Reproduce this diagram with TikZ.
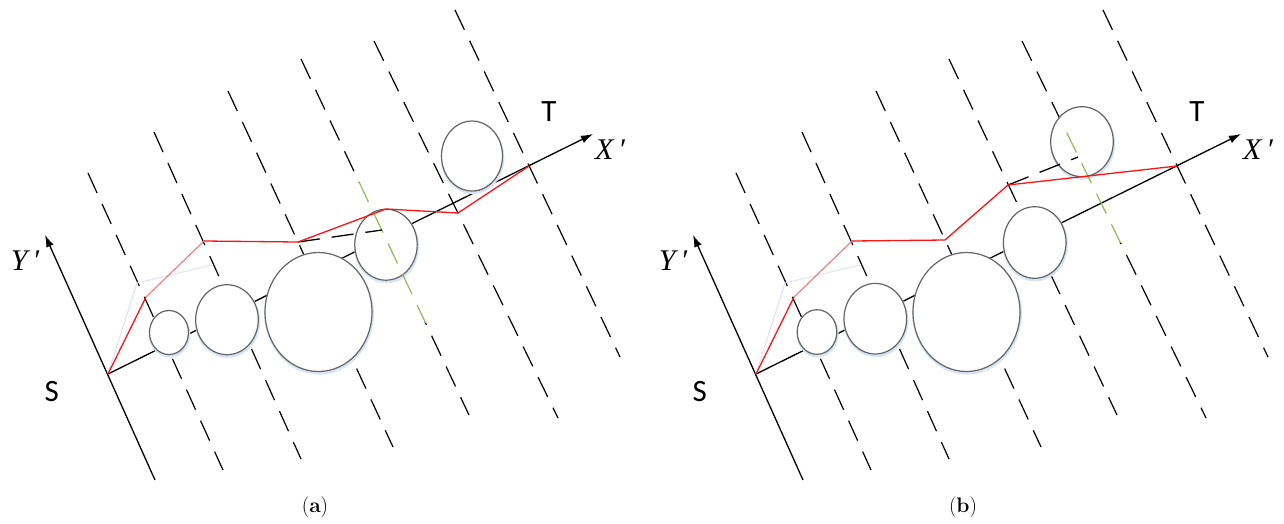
\documentclass[tikz,border=0pt]{standalone}
\usepackage{fontspec}
\newfontfamily\lblfont{Carlito}
\newfontfamily\axfont{Liberation Serif}
\usetikzlibrary{arrows.meta,shapes.geometric}
\definecolor{redpath}{RGB}{250,20,20}
\definecolor{redlight}{RGB}{244,120,120}
\definecolor{faintc}{RGB}{226,226,240}
\definecolor{olivec}{RGB}{150,185,85}
\definecolor{circc}{RGB}{100,100,100}
\definecolor{glowc}{RGB}{214,228,244}
\tikzset{
  guide/.style={line width=1.2pt, dash pattern=on 22pt off 12pt},
  greenguide/.style={guide, draw=olivec},
  axisline/.style={line width=1.3pt, -{Latex[length=12pt,width=8pt]}},
  obstsh/.style={ellipse, draw=circc, fill=white, line width=1.2pt, inner sep=0pt},
  glowsh/.style={ellipse, draw=glowc, line width=2.6pt, inner sep=0pt},
  redline/.style={draw=redpath, line width=1.3pt, line join=round},
  redsoft/.style={draw=redlight, line width=1.1pt},
  faintline/.style={draw=faintc, line width=1pt},
  hiddenseg/.style={line width=1.3pt, dash pattern=on 22pt off 12pt},
  lbl/.style={font=\lblfont\fontsize{31}{31}\selectfont, inner sep=0pt},
  axlbl/.style={font=\axfont\itshape\fontsize{30}{30}\selectfont, inner sep=0pt},
  capt/.style={font=\fontsize{21}{21}\selectfont, inner sep=0pt}
}
\newcommand\obst[5]{%
  \node[glowsh, minimum width=#4pt, minimum height=#5pt] (#1g) at (#2+0.6,#3+1.8) {};
  \node[obstsh, minimum width=#4pt, minimum height=#5pt] (#1) at (#2,#3) {};
}
\begin{document}
\begin{tikzpicture}[x=1pt,y=-1pt]
\useasboundingbox (0,0) rectangle (1284,523);

% ================= panel (a) =================
\coordinate (aS) at (108,374);
\coordinate (aYb) at (155,480);
\coordinate (aYt) at (45,235);
\coordinate (aXt) at (593,134);
\coordinate (aT) at (529,166);
\coordinate (a1t) at (88,173);  \coordinate (a1b) at (223,470);
\coordinate (a2t) at (154,132); \coordinate (a2b) at (301,459);
\coordinate (a3t) at (228,91);  \coordinate (a3b) at (393,447);
\coordinate (a4t) at (301,59);  \coordinate (a4b) at (469,415);
\coordinate (a5t) at (374,41);  \coordinate (a5b) at (558,418);
\coordinate (a6t) at (455,10);  \coordinate (a6b) at (620,357);
\coordinate (av1) at (146,297);
\coordinate (av2) at (204,241);
\coordinate (av3) at (298,242);
\coordinate (av4) at (386,209);
\coordinate (av5) at (458,213);
\coordinate (af1) at (137,283);
\coordinate (af2) at (212,265);
\coordinate (ah) at (382,230);

\draw[guide] (a1t) -- (a1b);
\draw[guide] (a2t) -- (a2b);
\draw[guide] (a3t) -- (a3b);
\begin{scope}
  \clip (0,0) rectangle (640,182);
  \draw[guide] (a4t) -- (a4b);
\end{scope}
\begin{scope}
  \clip (0,322) rectangle (640,523);
  \draw[guide] (a4t) -- (a4b);
\end{scope}
\draw[guide] (a5t) -- (a5b);
\draw[guide] (a6t) -- (a6b);

\draw[axisline] (aYb) -- (aYt);
\draw[axisline] (aS) -- (aXt);

\obst{ac1}{169}{332.5}{39}{44}
\obst{ac2}{227}{319.7}{62.6}{70}
\obst{ac3}{318.5}{312}{107}{119}
\obst{ac4}{386}{244.7}{62.4}{71}
\obst{ac5}{472}{156}{61}{70}

\begin{scope}
  \clip (0,182) rectangle (640,322);
  \draw[greenguide] (a4t) -- (a4b);
\end{scope}
\draw[hiddenseg] (av3) -- (ah);

\draw[faintline] (aS) -- (af1) -- (af2);
\draw[redline] (aS) -- (av1);
\draw[redsoft] (av1) -- (av2);
\draw[redline] (av2) -- (av3) -- (av4) -- (av5) -- (aT);

\node[lbl] (aSl) at (51.7,391.7) {S};
\node[lbl] (aTl) at (549,111.7) {T};
\node[axlbl] (aXl) at (610,150) {X\,′};
\node[axlbl] (aYl) at (25,261) {Y\,′};
\node[capt] (acap) at (315,507) {(\textbf{a})};

% ================= panel (b) =================
\begin{scope}[xshift=648]
\coordinate (bS) at (108,374);
\coordinate (bYb) at (155,480);
\coordinate (bYt) at (45,235);
\coordinate (bXt) at (593,134);
\coordinate (bT) at (529,166);
\coordinate (b1t) at (88,173);  \coordinate (b1b) at (223,470);
\coordinate (b2t) at (154,132); \coordinate (b2b) at (301,459);
\coordinate (b3t) at (228,91);  \coordinate (b3b) at (393,447);
\coordinate (b4t) at (301,59);  \coordinate (b4b) at (469,415);
\coordinate (b5t) at (374,41);  \coordinate (b5b) at (558,418);
\coordinate (b6t) at (455,10);  \coordinate (b6b) at (620,357);
\coordinate (bv1) at (146,297);
\coordinate (bv2) at (204,241);
\coordinate (bv3) at (297,240);
\coordinate (bv4) at (360,185);
\coordinate (bf1) at (137,283);
\coordinate (bf2) at (212,265);
\coordinate (bh) at (430,157);

\draw[guide] (b1t) -- (b1b);
\draw[guide] (b2t) -- (b2b);
\draw[guide] (b3t) -- (b3b);
\draw[guide] (b4t) -- (b4b);
\begin{scope}
  \clip (0,0) rectangle (636,129);
  \draw[guide] (b5t) -- (b5b);
\end{scope}
\begin{scope}
  \clip (0,242) rectangle (636,523);
  \draw[guide] (b5t) -- (b5b);
\end{scope}
\draw[guide] (b6t) -- (b6b);

\draw[axisline] (bYb) -- (bYt);
\draw[axisline] (bS) -- (bXt);

\obst{bc1}{169}{332}{39.6}{44.6}
\obst{bc2}{227.3}{318.7}{62.6}{70.6}
\obst{bc3}{318.5}{312}{107}{119}
\obst{bc4}{386.7}{242.5}{62.6}{71.6}
\obst{bc5}{434}{141.7}{62.6}{70}

\begin{scope}
  \clip (0,129) rectangle (636,242);
  \draw[greenguide] (b5t) -- (b5b);
\end{scope}
\draw[hiddenseg] (bv4) -- (bh);

\draw[faintline] (bS) -- (bf1) -- (bf2);
\draw[redline] (bS) -- (bv1);
\draw[redsoft] (bv1) -- (bv2);
\draw[redline] (bv2) -- (bv3) -- (bv4) -- (bT);

\node[lbl] (bSl) at (51.7,391.7) {S};
\node[lbl] (bTl) at (549,111.7) {T};
\node[axlbl] (bXl) at (610,150) {X\,′};
\node[axlbl] (bYl) at (25,261) {Y\,′};
\node[capt] (bcap) at (315,507) {(\textbf{b})};
\end{scope}
\end{tikzpicture}
\end{document}
